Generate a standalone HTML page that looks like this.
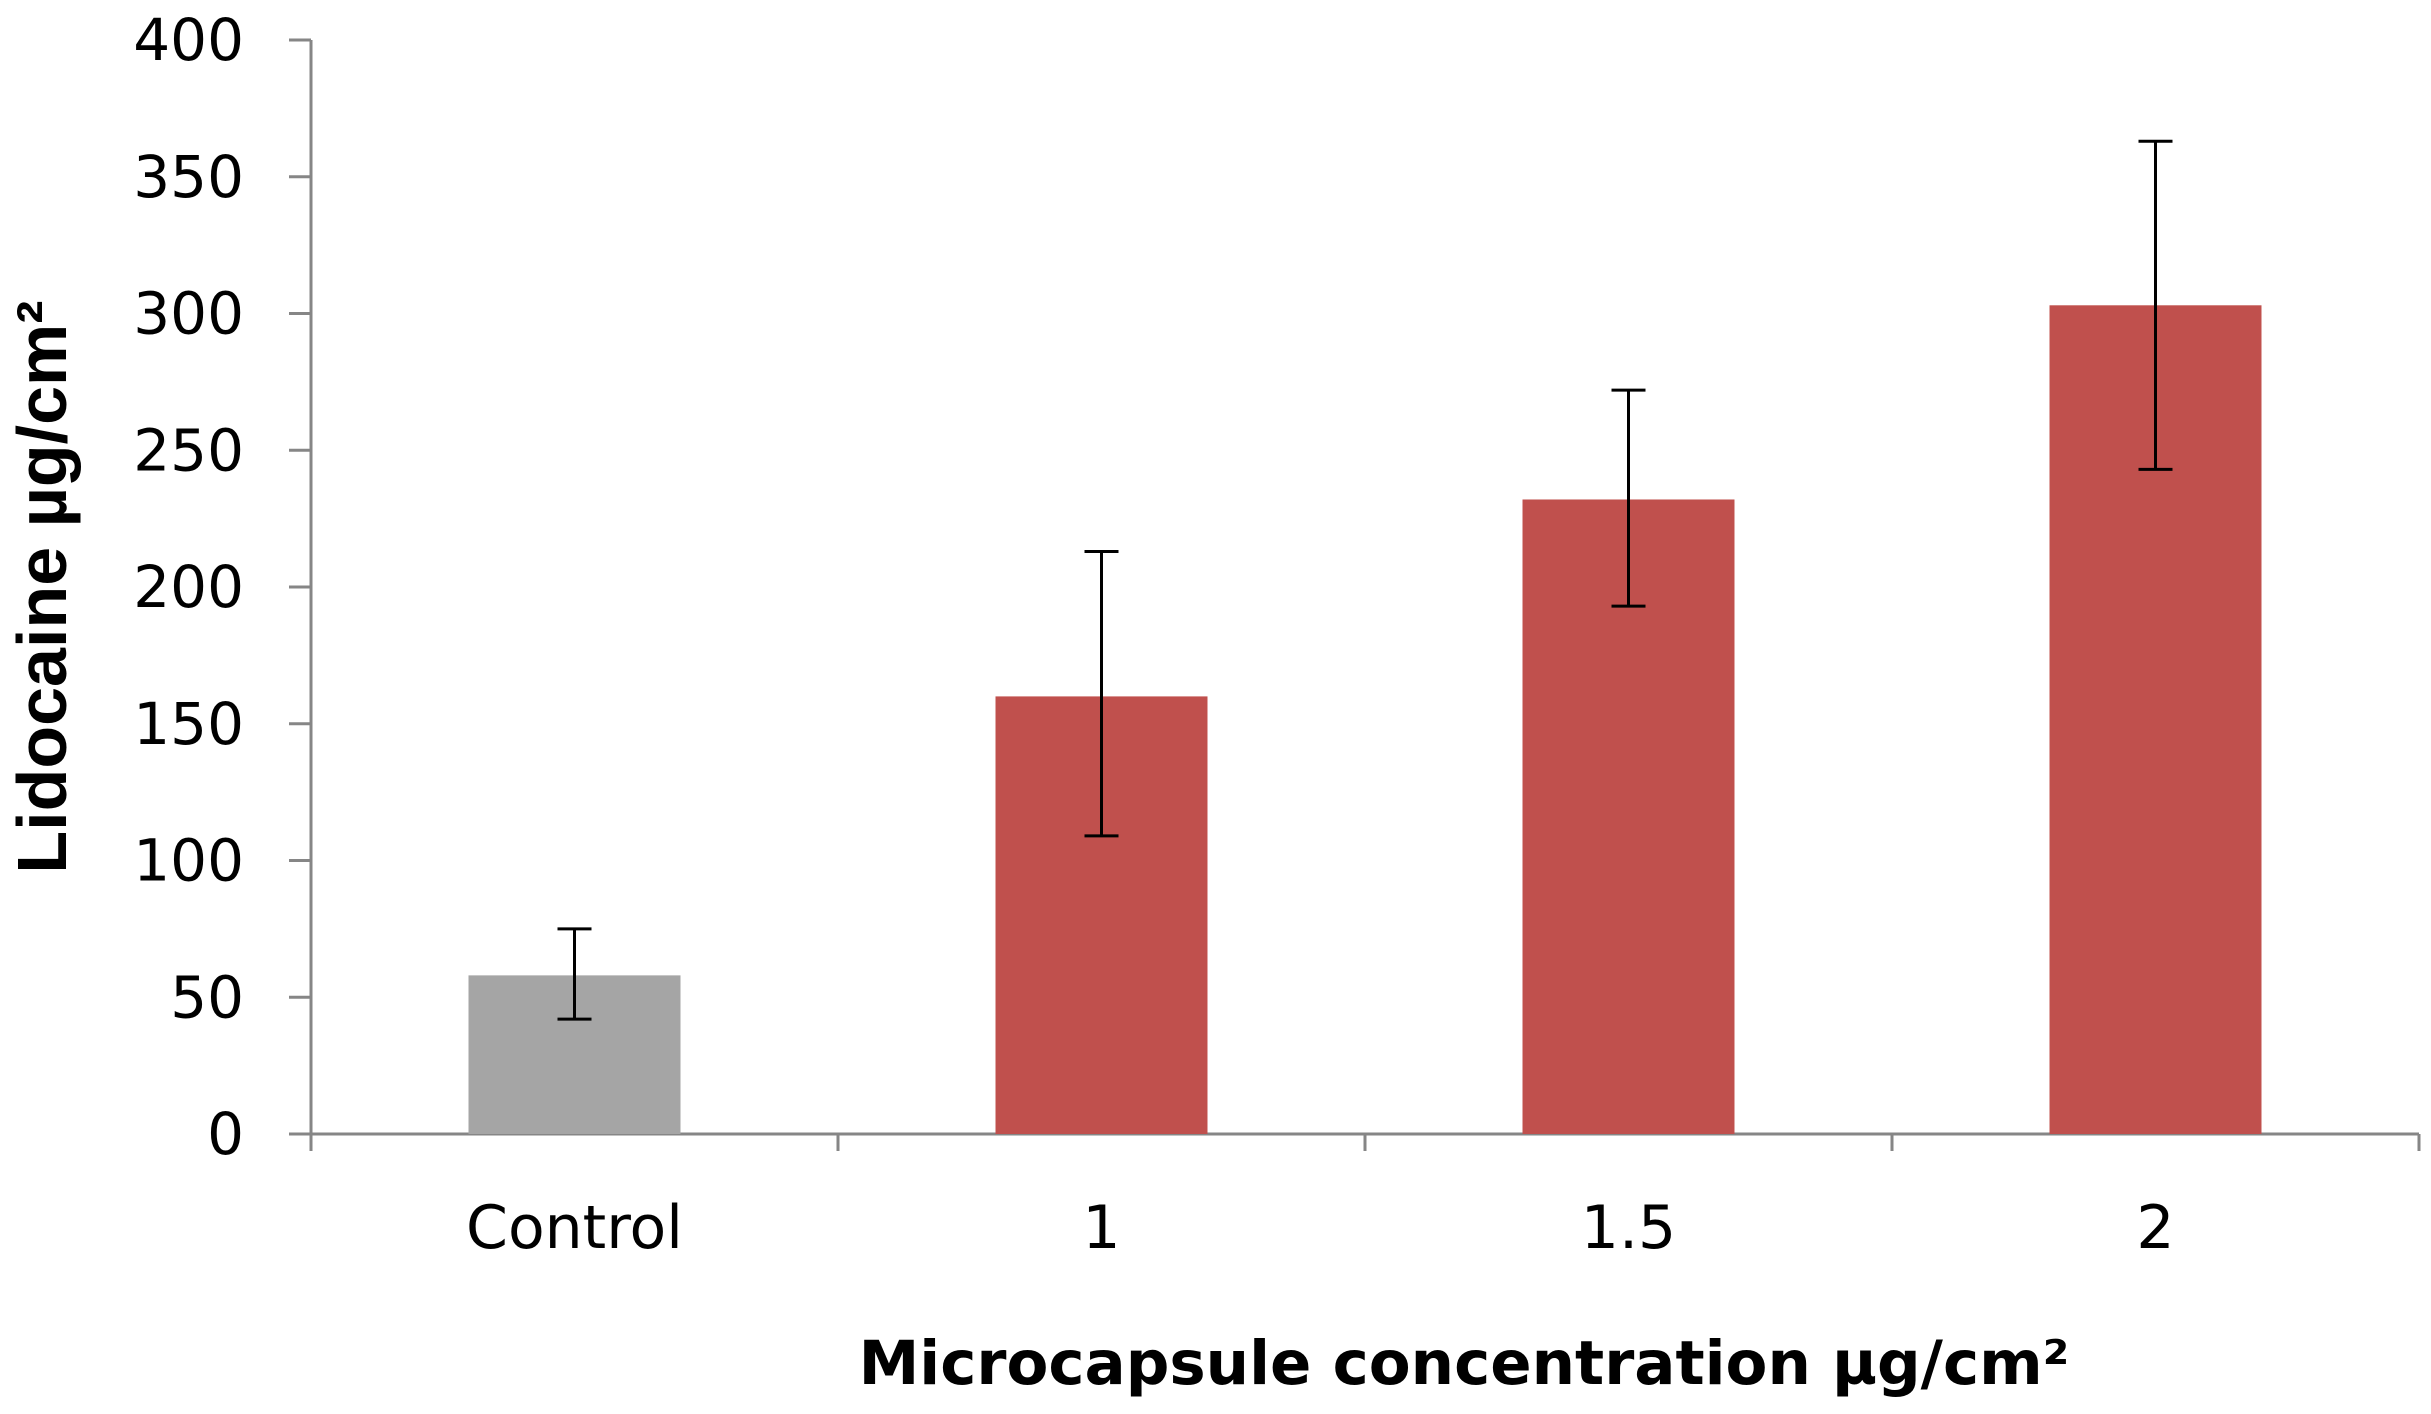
<!DOCTYPE html>
<html><head><meta charset="utf-8"><style>
html,body{margin:0;padding:0;background:#fff;}
svg{display:block;}
</style></head><body>
<svg id="chart" width="2431" height="1414" viewBox="0 0 2431 1414" xmlns="http://www.w3.org/2000/svg">
<g id="axes"></g>
<g id="bars"></g>
<text transform="translate(66,587) rotate(-90)" text-anchor="middle" font-family="Liberation Sans, Arial, sans-serif" font-weight="bold" font-size="70" fill="#000">Lidocaine µg/cm²</text>
<text x="1464" y="1384" text-anchor="middle" font-family="DejaVu Sans, Verdana, sans-serif" font-weight="bold" font-size="61" fill="#000">Microcapsule concentration µg/cm²</text>
</svg>
<script>
const categories = ["Control","1","1.5","2"];
const values = [58, 160, 232, 303];
const errUpper = [75, 213, 272, 363];
const errLower = [42, 109, 193, 243];
const colors = ["#A5A5A5","#C0504D","#C0504D","#C0504D"];
const yTicks = [0,50,100,150,200,250,300,350,400];

const NS="http://www.w3.org/2000/svg";
const x0=311, x1=2419, y0=1134, yTop=40, yMax=400;
const band=(x1-x0)/categories.length, barW=212;
const yS=v=>y0-(v/yMax)*(y0-yTop);
const xC=i=>x0+band*(i+0.5);
function mk(tag,attrs,parent){const e=document.createElementNS(NS,tag);for(const k in attrs)e.setAttribute(k,attrs[k]);parent.appendChild(e);return e;}
const axes=document.getElementById('axes'), bars=document.getElementById('bars');

let yl=mk('line',{x1:x0,y1:yTop,x2:x0,y2:y0+17,stroke:'#868686','stroke-width':3},axes);


yTicks.forEach(t=>{
  const y=yS(t);
  const tk=mk('line',{x1:x0-22,y1:y,x2:x0,y2:y,stroke:'#868686','stroke-width':3},axes);
  
  
  const tx=mk('text',{x:244,y:y+20,'text-anchor':'end','font-family':'DejaVu Sans, Verdana, sans-serif','font-size':58,fill:'#000'},axes);
  tx.textContent=t;
  
  
});
let xl=mk('line',{x1:x0-22,y1:y0,x2:x1,y2:y0,stroke:'#868686','stroke-width':3},axes);


for(let i=0;i<=categories.length;i++){
  const x=x0+band*i;
  const tk=mk('line',{x1:x,y1:y0,x2:x,y2:y0+17,stroke:'#868686','stroke-width':3},axes);
  
  
}
categories.forEach((c,i)=>{
  const tx=mk('text',{x:xC(i),y:1248,'text-anchor':'middle','font-family':'DejaVu Sans, Verdana, sans-serif','font-size':60,fill:'#000'},axes);
  tx.textContent=c;
  
  
  const r=mk('rect',{x:xC(i)-barW/2,y:yS(values[i]),width:barW,height:y0-yS(values[i]),fill:colors[i]},bars);
  
  
  const g=mk('g',{stroke:'#000','stroke-width':3},bars);
  
  
  const cx=xC(i);
  mk('line',{x1:cx,y1:yS(errUpper[i]),x2:cx,y2:yS(errLower[i])},g);
  mk('line',{x1:cx-17,y1:yS(errUpper[i]),x2:cx+17,y2:yS(errUpper[i])},g);
  mk('line',{x1:cx-17,y1:yS(errLower[i]),x2:cx+17,y2:yS(errLower[i])},g);
});
</script>
</body></html>
